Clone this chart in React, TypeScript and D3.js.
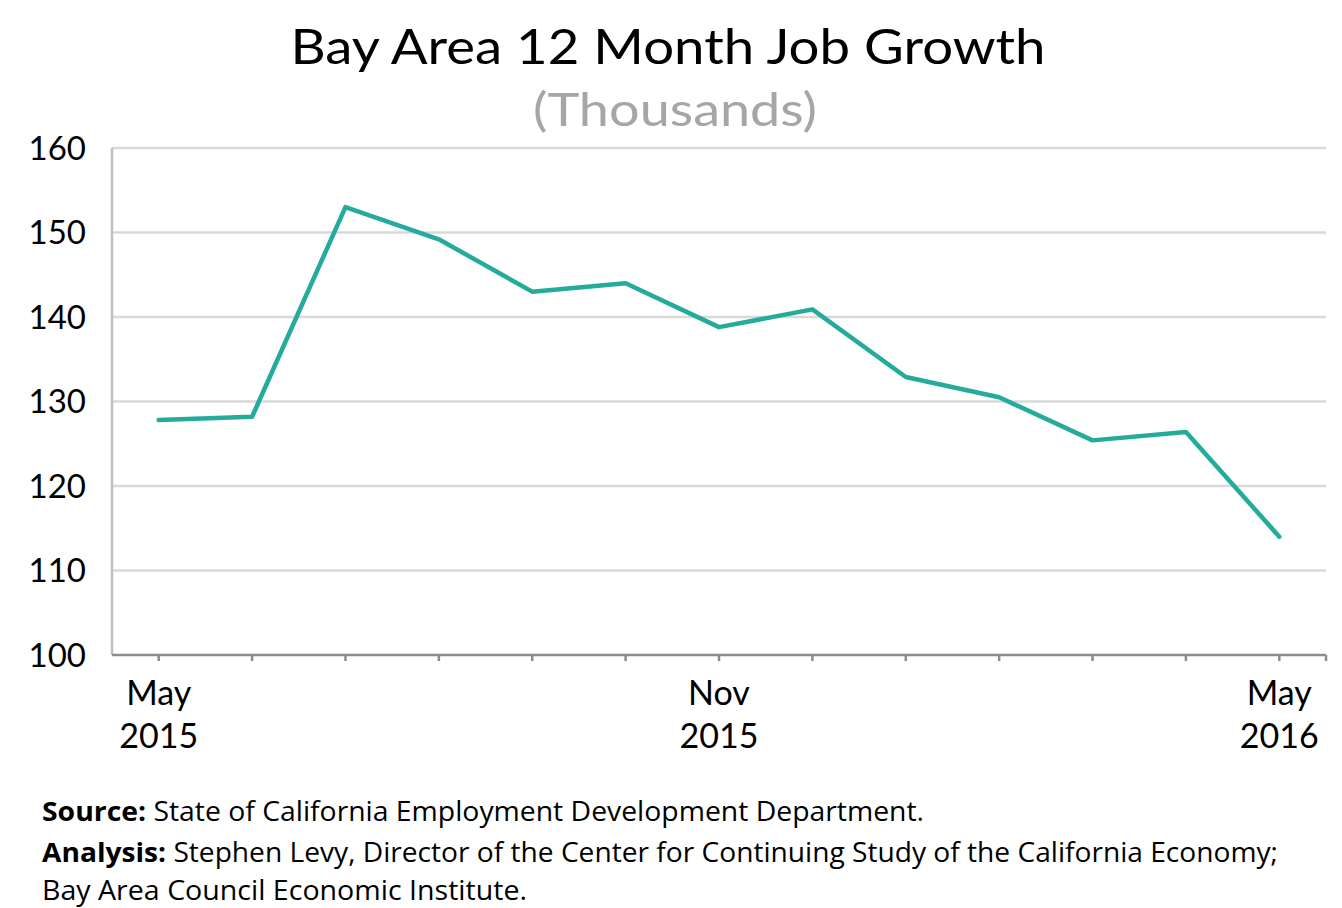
import React from "react";
import * as d3 from "d3";

const months = ["May 2015", "Jun 2015", "Jul 2015", "Aug 2015", "Sep 2015", "Oct 2015", "Nov 2015", "Dec 2015", "Jan 2016", "Feb 2016", "Mar 2016", "Apr 2016", "May 2016"];
const jobGrowth = [127.8, 128.2, 153.0, 149.2, 143.0, 144.0, 138.8, 140.9, 132.9, 130.5, 125.4, 126.4, 114.0];
const yTicks = [100, 110, 120, 130, 140, 150, 160];
const xLabels: Record<string, [string, string]> = {
  "May 2015": ["May", "2015"],
  "Nov 2015": ["Nov", "2015"],
  "May 2016": ["May", "2016"],
};

const W = 1342;
const H = 908;
const left = 112;
const right = 1326;
const top = 148;
const bottom = 655;

export default function App() {
  const x = d3.scaleBand<string>().domain(months).range([left, right]).padding(0);
  const cx = (m: string) => (x(m) as number) + x.bandwidth() / 2;
  const y = d3.scaleLinear().domain([100, 160]).range([bottom, top]);
  const line = d3
    .line<number>()
    .x((_, i) => cx(months[i]))
    .y((d) => y(d));

  const sans = "Lato, 'Open Sans', sans-serif";
  const foot = "'Open Sans', Lato, sans-serif";

  return (
    <svg width={W} height={H} style={{ position: "absolute", left: 0, top: 0, background: "#fff" }}>
      <text x={668} y={64} textAnchor="middle" fontFamily={sans} fontSize={49} fill="#000" textLength={755} lengthAdjust="spacingAndGlyphs">
        Bay Area 12 Month Job Growth
      </text>
      <text x={675} y={126} textAnchor="middle" fontFamily={sans} fontSize={47} fill="#a6a6a6" textLength={284} lengthAdjust="spacingAndGlyphs">
        (Thousands)
      </text>

      {yTicks.filter((t) => t !== 100).map((t) => (
        <line key={t} x1={left} x2={right} y1={y(t)} y2={y(t)} stroke="#d9d9d9" strokeWidth={2.5} />
      ))}
      {yTicks.map((t) => (
        <text key={"l" + t} x={86} y={y(t)} dy="0.36em" textAnchor="end" fontFamily={sans} fontSize={33} fill="#000">
          {t}
        </text>
      ))}
      <line x1={left} x2={left} y1={top} y2={bottom} stroke="#bfbfbf" strokeWidth={2.5} />
      <line x1={left} x2={right} y1={bottom} y2={bottom} stroke="#8c8c8c" strokeWidth={2.5} />
      {months.map((m) => (
        <line key={"t" + m} x1={cx(m)} x2={cx(m)} y1={bottom} y2={bottom + 6} stroke="#8c8c8c" strokeWidth={2.5} />
      ))}
      <line x1={right} x2={right} y1={bottom} y2={bottom + 6} stroke="#8c8c8c" strokeWidth={2.5} />
      {months.filter((m) => xLabels[m]).map((m) => (
        <g key={"x" + m}>
          <text x={cx(m)} y={705} textAnchor="middle" fontFamily={sans} fontSize={34} fill="#000">
            {xLabels[m][0]}
          </text>
          <text x={cx(m)} y={748} textAnchor="middle" fontFamily={sans} fontSize={34} fill="#000">
            {xLabels[m][1]}
          </text>
        </g>
      ))}

      <path d={line(jobGrowth) || ""} fill="none" stroke="#25ab9c" strokeWidth={4.5} strokeLinejoin="round" strokeLinecap="round" />

      <text x={42} y={821} fontFamily={foot} fontSize={27} fill="#000" textLength={882} lengthAdjust="spacingAndGlyphs">
        <tspan fontWeight="bold">Source:</tspan> State of California Employment Development Department.
      </text>
      <text x={42} y={862} fontFamily={foot} fontSize={27} fill="#000" textLength={1236} lengthAdjust="spacingAndGlyphs">
        <tspan fontWeight="bold">Analysis:</tspan> Stephen Levy, Director of the Center for Continuing Study of the California Economy;
      </text>
      <text x={42} y={900} fontFamily={foot} fontSize={27} fill="#000" textLength={485} lengthAdjust="spacingAndGlyphs">
        Bay Area Council Economic Institute.
      </text>
    </svg>
  );
}
